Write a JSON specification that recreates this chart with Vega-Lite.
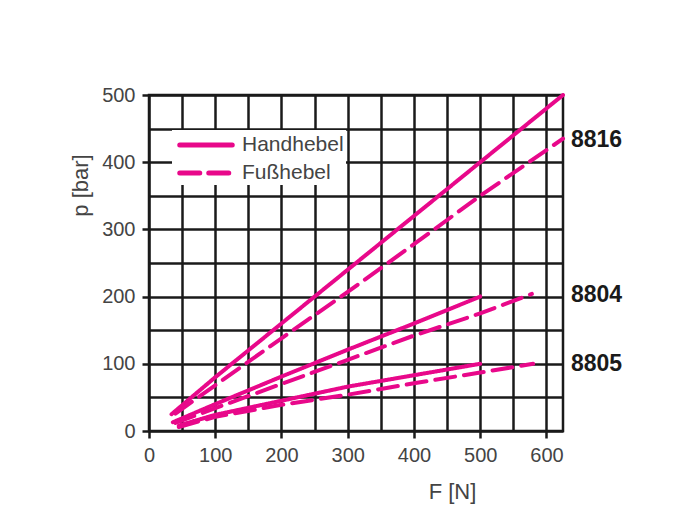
{
  "$schema": "https://vega.github.io/schema/vega-lite/v6.json",
  "width": 414,
  "height": 336,
  "autosize": "none",
  "padding": {"left": 149, "top": 95, "right": 116, "bottom": 93},
  "background": "white",
  "config": {
    "view": {"stroke": "#1a1a1a", "strokeWidth": 2.5},
    "font": "Liberation Sans",
    "axis": {
      "grid": true,
      "gridColor": "#1a1a1a",
      "gridWidth": 2.5,
      "gridOpacity": 1,
      "domain": false,
      "tickColor": "#1a1a1a",
      "tickWidth": 2.5,
      "tickSize": 7,
      "labelFontSize": 20,
      "labelColor": "#444444",
      "labelFont": "Liberation Sans",
      "titleFont": "Liberation Sans",
      "titleFontSize": 22,
      "titleFontWeight": "normal",
      "titleColor": "#444444"
    }
  },
  "datasets": {
    "curves": [
      {"model": "8816", "hebel": "Handhebel", "F": 34, "p": 25},
      {"model": "8816", "hebel": "Handhebel", "F": 100, "p": 80},
      {"model": "8816", "hebel": "Handhebel", "F": 200, "p": 160},
      {"model": "8816", "hebel": "Handhebel", "F": 300, "p": 240},
      {"model": "8816", "hebel": "Handhebel", "F": 400, "p": 320},
      {"model": "8816", "hebel": "Handhebel", "F": 500, "p": 400},
      {"model": "8816", "hebel": "Handhebel", "F": 625, "p": 500},
      {"model": "8816", "hebel": "Fußhebel", "F": 40, "p": 26},
      {"model": "8816", "hebel": "Fußhebel", "F": 100, "p": 68},
      {"model": "8816", "hebel": "Fußhebel", "F": 200, "p": 138},
      {"model": "8816", "hebel": "Fußhebel", "F": 300, "p": 207},
      {"model": "8816", "hebel": "Fußhebel", "F": 400, "p": 278},
      {"model": "8816", "hebel": "Fußhebel", "F": 500, "p": 350},
      {"model": "8816", "hebel": "Fußhebel", "F": 625, "p": 435},
      {"model": "8804", "hebel": "Handhebel", "F": 36, "p": 13},
      {"model": "8804", "hebel": "Handhebel", "F": 100, "p": 40},
      {"model": "8804", "hebel": "Handhebel", "F": 200, "p": 81},
      {"model": "8804", "hebel": "Handhebel", "F": 300, "p": 121},
      {"model": "8804", "hebel": "Handhebel", "F": 400, "p": 160},
      {"model": "8804", "hebel": "Handhebel", "F": 500, "p": 200},
      {"model": "8804", "hebel": "Fußhebel", "F": 40, "p": 12},
      {"model": "8804", "hebel": "Fußhebel", "F": 100, "p": 34},
      {"model": "8804", "hebel": "Fußhebel", "F": 200, "p": 70},
      {"model": "8804", "hebel": "Fußhebel", "F": 300, "p": 106},
      {"model": "8804", "hebel": "Fußhebel", "F": 400, "p": 142},
      {"model": "8804", "hebel": "Fußhebel", "F": 500, "p": 175},
      {"model": "8804", "hebel": "Fußhebel", "F": 578, "p": 204},
      {"model": "8805", "hebel": "Handhebel", "F": 45, "p": 8},
      {"model": "8805", "hebel": "Handhebel", "F": 100, "p": 24},
      {"model": "8805", "hebel": "Handhebel", "F": 200, "p": 45},
      {"model": "8805", "hebel": "Handhebel", "F": 300, "p": 66},
      {"model": "8805", "hebel": "Handhebel", "F": 400, "p": 83},
      {"model": "8805", "hebel": "Handhebel", "F": 500, "p": 100},
      {"model": "8805", "hebel": "Fußhebel", "F": 45, "p": 6},
      {"model": "8805", "hebel": "Fußhebel", "F": 100, "p": 21},
      {"model": "8805", "hebel": "Fußhebel", "F": 200, "p": 39},
      {"model": "8805", "hebel": "Fußhebel", "F": 300, "p": 54},
      {"model": "8805", "hebel": "Fußhebel", "F": 400, "p": 71},
      {"model": "8805", "hebel": "Fußhebel", "F": 500, "p": 87},
      {"model": "8805", "hebel": "Fußhebel", "F": 580, "p": 100}
    ],
    "labels": [
      {"model": "8816", "F": 625, "p": 433},
      {"model": "8804", "F": 625, "p": 202},
      {"model": "8805", "F": 625, "p": 100}
    ]
  },
  "layer": [
    {
      "data": {"name": "curves"},
      "mark": {"type": "line", "color": "#e8088a", "strokeWidth": 4, "strokeCap": "round", "clip": false},
      "encoding": {
        "x": {
          "field": "F", "type": "quantitative",
          "scale": {"domain": [0, 625], "nice": false, "zero": false},
          "axis": {
            "values": [0, 50, 100, 150, 200, 250, 300, 350, 400, 450, 500, 550, 600],
            "tickCount": 30,
            "labelExpr": "datum.value % 100 === 0 ? datum.label : ''",
            "tickOpacity": {"condition": {"test": "datum.value % 100 === 0", "value": 1}, "value": 0},
            "labelPadding": 7,
            "labelFlush": false,
            "labelOverlap": false,
            "title": "F [N]",
            "titleX": 303,
            "titleY": 60,
            "titleAlign": "center",
            "titleBaseline": "middle"
          }
        },
        "y": {
          "field": "p", "type": "quantitative",
          "scale": {"domain": [0, 500], "nice": false},
          "axis": {
            "values": [0, 50, 100, 150, 200, 250, 300, 350, 400, 450, 500],
            "tickCount": 30,
            "labelExpr": "datum.value % 100 === 0 ? datum.label : ''",
            "tickOpacity": {"condition": {"test": "datum.value % 100 === 0", "value": 1}, "value": 0},
            "labelPadding": 7,
            "labelFlush": false,
            "labelOverlap": false,
            "title": "p [bar]",
            "titleX": -69,
            "titleY": 90,
            "titleAlign": "center",
            "titleBaseline": "middle"
          }
        },
        "detail": {"field": "model"},
        "strokeDash": {
          "field": "hebel", "type": "nominal",
          "scale": {"domain": ["Handhebel", "Fußhebel"], "range": [[1, 0], [20, 9]]},
          "legend": {
            "title": null,
            "orient": "none",
            "legendX": 23,
            "legendY": 35,
            "fillColor": "white",
            "padding": 2,
            "symbolType": "M-2.5,0H2.5",
            "symbolSize": 441,
            "symbolStrokeWidth": 5,
            "symbolStrokeColor": "#e8088a",
            "symbolOffset": 19,
            "labelFontSize": 21,
            "labelColor": "#444444",
            "labelOffset": 23,
            "rowPadding": 5,
            "encode": {
              "symbols": {
                "update": {
                  "strokeCap": {"value": "round"},
                  "strokeDash": {"signal": "datum.label === 'Fußhebel' ? [8, 5] : [1, 0]"}
                }
              }
            }
          }
        }
      }
    },
    {
      "data": {"name": "labels"},
      "mark": {"type": "text", "align": "left", "baseline": "middle", "dx": 8, "fontSize": 23, "fontWeight": "bold", "color": "#1a1a1a", "font": "Liberation Sans"},
      "encoding": {
        "x": {"field": "F", "type": "quantitative"},
        "y": {"field": "p", "type": "quantitative"},
        "text": {"field": "model"}
      }
    }
  ]
}
